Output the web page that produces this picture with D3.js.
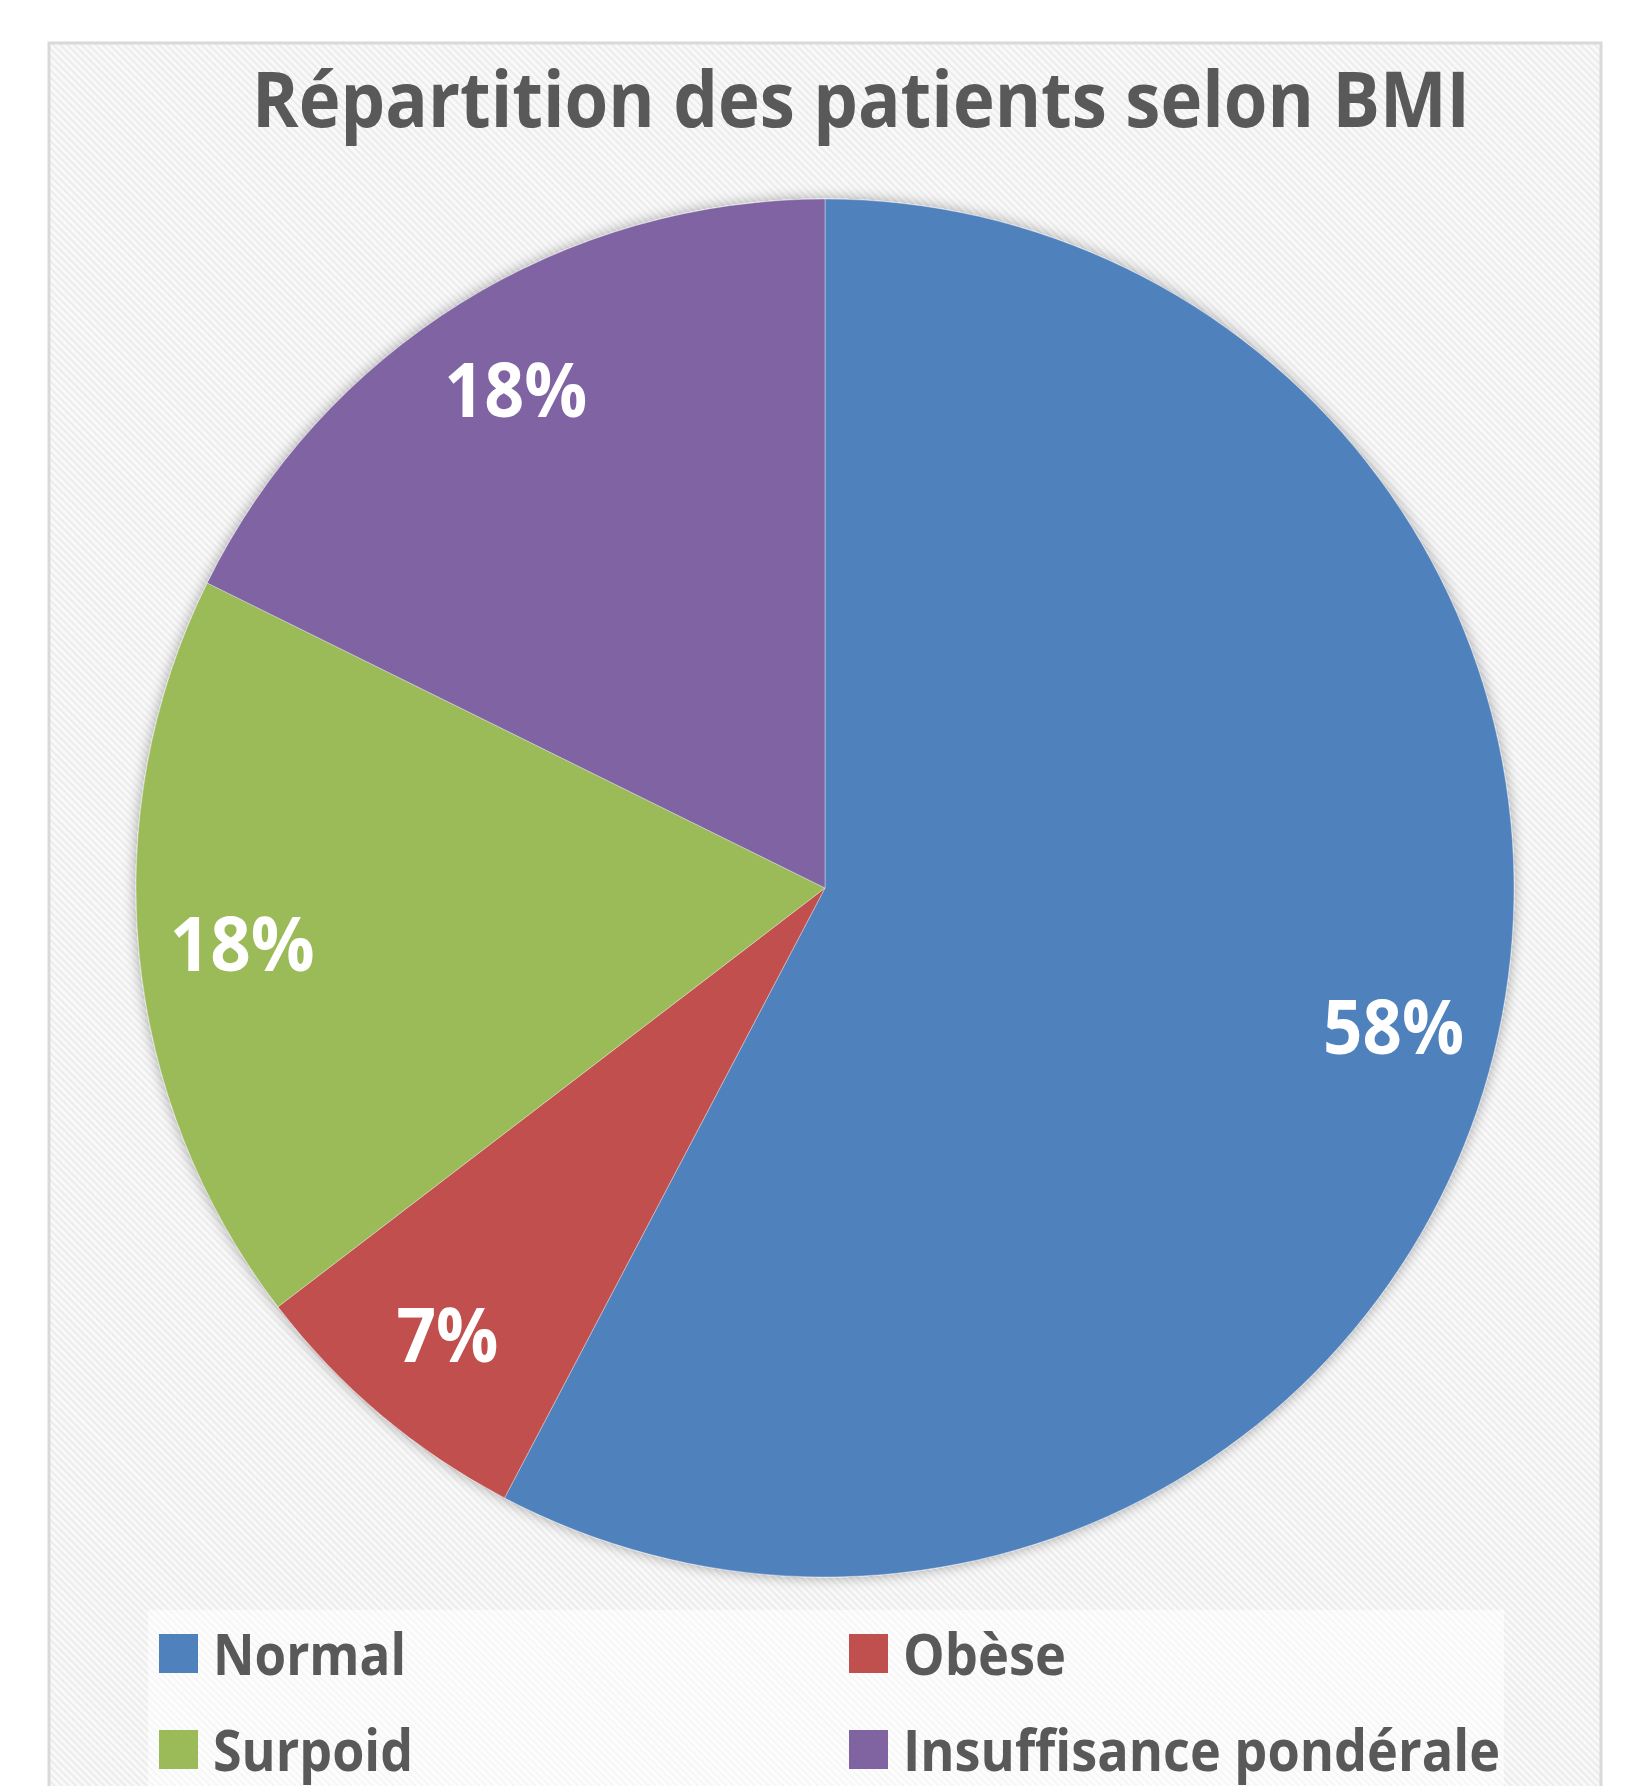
<!DOCTYPE html>
<html>
<head>
<meta charset="utf-8">
<script src="https://cdn.jsdelivr.net/npm/d3@7"></script>
<style>
  html, body { margin: 0; padding: 0; background: #ffffff; }
  svg { display: block; }
  text { font-variant-ligatures: none; font-feature-settings: "liga" 0, "clig" 0; }
</style>
</head>
<body>
<svg id="chart" width="1627" height="1786"></svg>
<script>
// ---- data ----
const title = "Répartition des patients selon BMI";
const categories = ["Normal", "Obèse", "Surpoid", "Insuffisance pondérale"];
const values = [57.7, 6.9, 17.7, 17.7];
const valueLabels = ["58%", "7%", "18%", "18%"];
const colors = ["#4F81BD", "#C0504D", "#9BBB59", "#8064A2"];

// ---- layout ----
const svg = d3.select("#chart");
const W = 1627, H = 1786;
const cx = 825, cy = 888, R = 689;
const FONT = "'Open Sans', Lato, sans-serif";
const TEXT = "#595959";

const defs = svg.append("defs");
const pat = defs.append("pattern").attr("id", "hatch")
  .attr("patternUnits", "userSpaceOnUse").attr("width", 5).attr("height", 5)
  .attr("patternTransform", "rotate(-45)");
pat.append("rect").attr("width", 5).attr("height", 5).attr("fill", "#f9f9f9");
pat.append("rect").attr("width", 2).attr("height", 5).attr("fill", "#ececec");

const pat2 = defs.append("pattern").attr("id", "hatch2")
  .attr("patternUnits", "userSpaceOnUse").attr("width", 5).attr("height", 5)
  .attr("patternTransform", "rotate(-45)");
pat2.append("rect").attr("width", 5).attr("height", 5).attr("fill", "#fdfdfd");
pat2.append("rect").attr("width", 2).attr("height", 5).attr("fill", "#f6f6f6");

const shadow = defs.append("filter").attr("id", "shadow")
  .attr("x", "-10%").attr("y", "-10%").attr("width", "120%").attr("height", "120%");
shadow.append("feGaussianBlur").attr("in", "SourceAlpha").attr("stdDeviation", 7).attr("result", "b");
shadow.append("feOffset").attr("in", "b").attr("dx", 0).attr("dy", 0).attr("result", "o");
shadow.append("feComponentTransfer").attr("in", "o").attr("result", "s")
  .append("feFuncA").attr("type", "linear").attr("slope", 0.35);
const fm = shadow.append("feMerge");
fm.append("feMergeNode").attr("in", "s");
fm.append("feMergeNode").attr("in", "SourceGraphic");

// chart area frame
svg.append("rect").attr("x", 49).attr("y", 43).attr("width", 1552).attr("height", H)
  .attr("fill", "url(#hatch)").attr("stroke", "#d9d9d9").attr("stroke-width", 3);

// legend background
svg.append("rect").attr("x", 148).attr("y", 1610).attr("width", 1356).attr("height", H - 1610)
  .attr("fill", "url(#hatch2)");

// title
svg.append("text").attr("x", 861).attr("y", 127)
  .attr("text-anchor", "middle")
  .attr("font-family", FONT).attr("font-weight", 700).attr("font-size", 77)
  .attr("fill", TEXT)
  .attr("textLength", 1218).attr("lengthAdjust", "spacingAndGlyphs")
  .text(title);

// pie
const pie = d3.pie().sort(null).value(d => d)(values);
const arc = d3.arc().innerRadius(0).outerRadius(R);
const labelArc = d3.arc().innerRadius(R * 0.85).outerRadius(R * 0.85);

const g = svg.append("g").attr("transform", `translate(${cx},${cy})`);
const slices = g.append("g").attr("filter", "url(#shadow)");
slices.selectAll("path").data(pie).join("path")
  .attr("d", arc)
  .attr("fill", (d, i) => colors[i])
  .attr("stroke", "rgba(255,255,255,0.35)")
  .attr("stroke-width", 1);

const labelWidths = [141, 102, 145, 143];
g.selectAll("text.lbl").data(pie).join("text")
  .attr("class", "lbl")
  .attr("x", d => labelArc.centroid(d)[0])
  .attr("y", d => labelArc.centroid(d)[1])
  .attr("dy", 26)
  .attr("text-anchor", "middle")
  .attr("font-family", FONT).attr("font-weight", 700).attr("font-size", 76)
  .attr("fill", "#ffffff")
  .attr("textLength", (d, i) => labelWidths[i]).attr("lengthAdjust", "spacingAndGlyphs")
  .text((d, i) => valueLabels[i]);

// legend
const legX = [159, 849], legY = [1634, 1730];
const legWidths = [193, 163, 200, 597];
const leg = svg.append("g").selectAll("g").data(categories).join("g")
  .attr("transform", (d, i) => `translate(${legX[i % 2]},${legY[Math.floor(i / 2)]})`);
leg.append("rect").attr("width", 39).attr("height", 39).attr("fill", (d, i) => colors[i]);
leg.append("text").attr("x", 54).attr("y", 41)
  .attr("font-family", FONT).attr("font-weight", 700).attr("font-size", 58)
  .attr("fill", TEXT)
  .attr("textLength", (d, i) => legWidths[i]).attr("lengthAdjust", "spacingAndGlyphs")
  .text(d => d);
</script>
</body>
</html>
